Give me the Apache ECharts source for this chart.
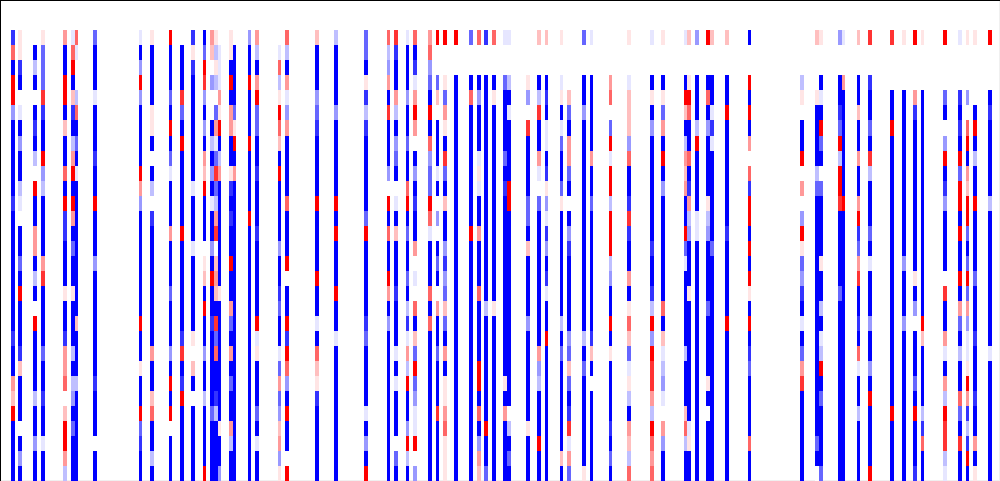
<!DOCTYPE html>
<html>
<head>
<meta charset="utf-8">
<style>html,body{margin:0;padding:0;background:#fff}#chart{width:1000px;height:481px}</style>
<script src="https://cdn.jsdelivr.net/npm/echarts@6/dist/echarts.min.js"></script>
</head>
<body>
<div id="chart"></div>
<script>
const columnCount = 266;
const rowCount = 32;
const firstDataRow = 2;
const levelValues = {A:-1,B:-0.8,C:-0.6,D:-0.4,E:-0.25,F:-0.1,'.':0,f:0.1,e:0.25,d:0.4,c:0.6,b:0.8,a:1};
const columnIndices = [3,5,9,11,17,19,20,25,37,40,45,48,51,54,56,57,58,61,62,66,68,74,76,84,89,97,103,105,108,110,114,116,118,121,125,127,129,131,134,135,140,143,145,149,151,155,157,162,167,173,176,182,183,185,188,189,193,199,213,217,218,223,224,228,231,237,240,243,245,251,255,257,259,263];
const columnLevels = [
"BcAaaDAAA"+"AABAAAAAAA"+"ABAAdeaAAAA",
"ffBA.FADA"+"AEF.AACAaA"+"AABeAAA.ADA",
".AEA.ABAE"+".aAAddAEA."+"aAAAAEAADAA",
"fCCCbBAAa"+"DEAAAAdbAA"+"AACAABAAFAA",
"dAAaaAeAA"+"cAaBBAAAfA"+"ABddc.eaadE",
"FcaAeBAEd"+"aAadACAAfA"+"AAEAEDACAAA",
"cF..EcACA"+"FAAAAAAAAA"+"eAAAEAAAAAA",
"CAAAFAAAB"+"AAaAAADAAA"+"AAAABAAA.AA",
"FADaDAAAA"+"adDAAAAAAA"+"aAAfAAaCBAA",
"fAAAAffA."+"AE.BAAAAAA"+"AAdAAecAAEA",
"aAAACAaAC"+"FAAAdAAACA"+"AADAaAa.AAA",
".AAAbCAaA"+"AAAAaAAAAA"+"ABbABaAAAAA",
"BfBAAAAAA"+"AFAAAFAAAA"+"Af.eA.AAAAA",
"ACabDADAd"+"eaAAA.feAa"+"AADAAEAAAAa",
"de.D..AEA"+"DAFAADAaAA"+"BAAAAACAAAA",
"fEfE.CdFC"+"bCEdb.edeA"+"bCcAABEAAAA",
".FFFdfaAE"+"dAAAAAAAfA"+"AAAAAAAfAAD",
"ffAaAddAA"+"fBABAAaAAd"+"CAdACAAdEAA",
".AAAACfaA"+"dAAAAAAAAA"+"AAAAAAAAAAA",
"DAAaAAAaA"+"AAAaAAAAAA"+"AAAAAAAAAAA",
"dEAdaCCAA"+"BAAABAAAAA"+"aFfAAACAFAA",
".FcEfaceA"+"aAAAADAABC"+"AAFCdCDedDf",
"cEAdFDdAA"+"AAcAAAa.AA"+"aBacDAaAA.a",
"eAAADCBAA"+"AAaAAAAaAA"+"FAcefBAAAAA",
"EAAAADAAA"+"AAaAaAAAaA"+"AFAAAAAAAAA",
"CCAfBEBAA"+"AAACaAAAAA"+"BCAAAAFADAa",
"cEDdAbAAA"+"D.aAcAAadA"+"DAAAAAAAAAA",
"bBAAdEADC"+"A.FAeAAABA"+"AAFAFAAA.CA",
"FAAADAACA"+"AcaACAACAE"+"BFdEaAADaEA",
"cABFdad.A"+"DABAAd.F.c"+"AeCaCDFFa.D",
"dcDCAaAcD"+"CCacFAAAcA"+"cAAAAAAAAAA",
"a..Ce.AAA"+"FA.D.ACA.d"+"AACAAAbAAAA",
"a..fCdfAb"+"CAeAADBDCe"+"CAdAffdcfff",
"a..AAAAAA"+"AAAAAAAAAA"+"AAAAAAAAAAA",
"C..AcAAAA"+"AAAAaAAAAA"+"AAAAAAAAAAA",
"c..ADAAAF"+"fFAAdAAAcA"+"AAAaaAcADde",
"B..AAAAAA"+"AAAAAAAAAE"+"AAAAAAAaAAC",
"c..AfAAAA"+"AAAAAAAAAf"+"AAAAAAAAAAA",
"F..CAAAAC"+"ABAAAAAAAA"+"AAAAfAdAAAA",
"F..EAFAAA"+"AaaAAAAAAA"+"AAAAAA.EACA",
"...fD.bAA"+"AACCAeAAAA"+"DAAAAAAfAAA",
"e..AEbAAd"+"F.CAAAAAAA"+"AAdDEAAAaAA",
"e..ABAFFA"+"BfDFBDABFA"+"AaAAAAAAAAA",
"f..FfAFCA"+"ACfAAAAAAA"+"EACAAAAAAeA",
"....eCAdd"+"CA.ADBAAAA"+"ADCeCABbFdC",
"C..AADAAA"+"AAAAAAAAAA"+"AEACAAAAAAf",
"F..AAAAAd"+"AACAAAAAAA"+"ABeA.AAAAAA",
"...dc.CaF"+"aaEaaaEDAA"+"aAfAAAABACA",
"f..FeeeDc"+"AABbBAAdAf"+"ceCFfEAdeEc",
"F..AfADAA"+"AAAAABAABE"+"aDabbdEacdc",
"f..AfCdAa"+"ADAAAAAAAc"+"AeFEDF.dDAA",
"F..AaeAEd"+"edAAaCFAAA"+"AAEAAAecEAA",
"e..facAAc"+"ABdEDAAAfA"+"AAAAAAAFfAA",
"D..AAAEaA"+"AAAFFAAAAA"+"AAAAAAAAAAA",
"a..AcADAA"+"AAfEDAAAAC"+"AAAAfA.AAAA",
"e..AAFBFA"+"AAAAACAAAA"+"AAAAAAAAAAA",
"e..AAaAAA"+"AAAABAAAAA"+"aAAAAAAAAAA",
"A..aAaAd."+"cBaaAaAafA"+"aABCAAAAcAA",
"...Ef.AAa"+".d.DafCDBA"+"FACdbAAAAAA",
"e...fAAAA"+"ECAAAAAAAA"+"AAAAAAAACA.",
"f..AFAaCA"+".CAAAAfAAE"+"AFEaACAAAAC",
"D..AABCaE"+"aabAAAAACA"+"AAAAAAAAAAA",
"F..dAAAAA"+"AAaAAAAAAA"+"AAAAAAAAAAA",
"e..AAeAAd"+"AAdaBCdbAA"+"BAcFAAEAAAA",
"b..BAACAb"+"EAAACAFAAA"+"DAADAaAAAAa",
"b...AAaAA"+"AAAAAAAAAA"+"AAAAAAaAAAA",
"f...AAAAA"+"AAAAAADAAA"+"DAAAAAAAAAA",
"a...dBAAA"+"AAAAAAAfAD"+".AAACAaAAAB",
"f...AAAAA"+"AAAAAAAAAA"+"aeAAAAEBcAA",
"a...CA.Da"+"ABDAAAA.bA"+"AdFAdEabbEF",
"F...BABAa"+"CaaAaAAaAd"+"CAEAAcCAbAA",
"f...D.caA"+"deaaCACaCd"+"DFFfadBEBaA",
"f....AaAE"+"AAaAAAACAA"+"ABAAABAAdAf",
"a...ABAAA"+"AAEAAAAAAA"+"AAFAAAAAAAA"
];

const xCategories = Array.from({length: columnCount}, (_, i) => String(i));
const yCategories = Array.from({length: rowCount}, (_, i) => String(i));
const cells = [];
columnIndices.forEach((col, k) => {
  const codes = columnLevels[k];
  for (let r = 0; r < codes.length; r++) {
    cells.push([col, r + firstDataRow, levelValues[codes[r]]]);
  }
});

const chart = echarts.init(document.getElementById('chart'), null, {renderer: 'canvas'});
chart.setOption({
  animation: false,
  backgroundColor: '#ffffff',
  grid: {left: 0, top: 0.33, width: 1000, height: 481, containLabel: false},
  graphic: [
    {type: 'rect', z: -1, silent: true, shape: {x: 999, y: 0, width: 1, height: 481}, style: {fill: '#f0f0f0'}},
    {type: 'rect', z: -1, silent: true, shape: {x: 0, y: 480, width: 1000, height: 1}, style: {fill: '#f0f0f0'}}
  ],
  xAxis: {
    type: 'category', position: 'top', data: xCategories, boundaryGap: true,
    axisLine: {show: true, lineStyle: {color: '#000', width: 1}},
    axisTick: {show: false}, axisLabel: {show: false}, splitLine: {show: false}
  },
  yAxis: {
    type: 'category', inverse: true, data: yCategories, boundaryGap: true,
    axisLine: {show: true, lineStyle: {color: '#000', width: 2}},
    axisTick: {show: false}, axisLabel: {show: false}, splitLine: {show: false}
  },
  visualMap: {
    show: false, type: 'continuous', dimension: 2, min: -1, max: 1,
    inRange: {color: ['#0000ff', '#ffffff', '#ff0000']}
  },
  series: [{
    type: 'custom',
    coordinateSystem: 'cartesian2d',
    encode: {x: 0, y: 1},
    data: cells,
    clip: true,
    z: 1,
    renderItem: function (params, api) {
      const c = api.coord([api.value(0), api.value(1)]);
      const s = api.size([1, 1]);
      const x0 = Math.floor(c[0] - s[0] / 2);
      const x1 = Math.floor(c[0] + s[0] / 2);
      const y0 = Math.round(c[1] - s[1] / 2);
      const y1 = Math.round(c[1] + s[1] / 2);
      return {
        type: 'rect',
        shape: {x: x0, y: y0, width: x1 - x0, height: y1 - y0},
        style: {fill: api.visual('color'), stroke: null}
      };
    }
  }]
});
</script>
</body>
</html>
